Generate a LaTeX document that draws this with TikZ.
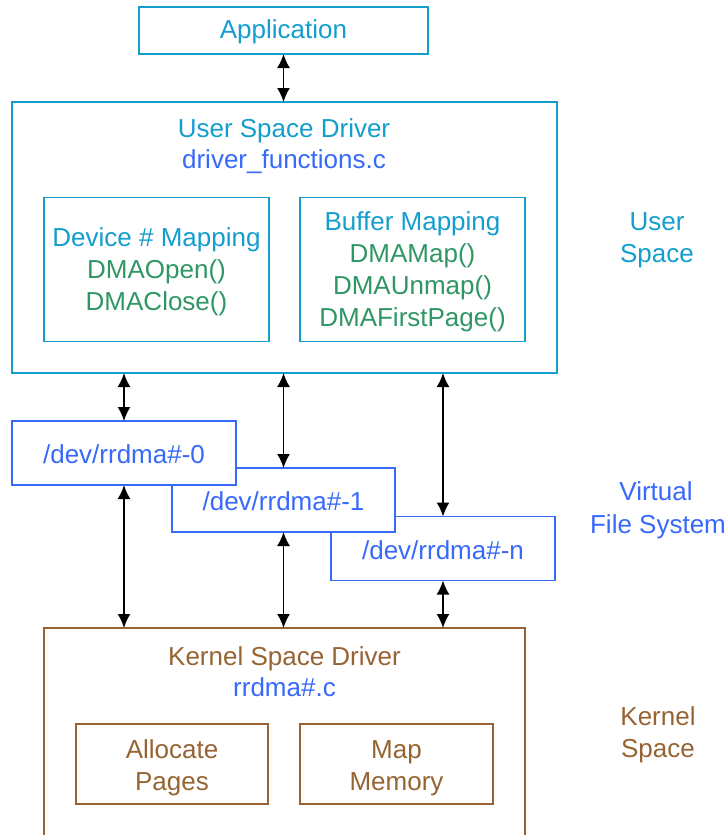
\documentclass[tikz,border=0pt]{standalone}
\usepackage{fontspec}
\setmainfont{Liberation Sans}
\usetikzlibrary{arrows.meta}
\definecolor{cyanc}{RGB}{20,158,205}
\definecolor{bluec}{RGB}{55,105,250}
\definecolor{greenc}{RGB}{48,150,100}
\definecolor{brownc}{RGB}{150,100,50}
\begin{document}
\begin{tikzpicture}[x=1pt,y=-1pt,
  box/.style={draw, line width=1.8pt, fill=white, inner sep=0pt, outer sep=0pt},
  txt/.style={anchor=base, font=\fontsize{26}{30}\selectfont, inner sep=0pt},
  arr/.style={{Latex[length=14pt,width=13pt]}-{Latex[length=14pt,width=13pt]}, line width=1.7pt}]
\useasboundingbox (0,0) rectangle (725,835);
% Application
\node[box, draw=cyanc, minimum width=289pt, minimum height=47pt] (app) at (283.5,30.5) {};
\node[txt, text=cyanc] (tapp) at (283.5,38.5) {Application};
% User space driver
\node[box, draw=cyanc, minimum width=545pt, minimum height=271pt] (usd) at (284.5,237.5) {};
\node[txt, text=cyanc] (tusd) at (284,137) {User Space Driver};
\node[txt, text=bluec] (tusdf) at (284,168.5) {driver\_functions.c};
\node[box, draw=cyanc, minimum width=225pt, minimum height=144pt] (dev) at (156.5,269.5) {};
\node[txt, text=cyanc] (tdev1) at (156.5,246.7) {Device \# Mapping};
\node[txt, text=greenc] (tdev2) at (156.5,278.7) {DMAOpen()};
\node[txt, text=greenc] (tdev3) at (156.5,310.5) {DMAClose()};
\node[box, draw=cyanc, minimum width=225pt, minimum height=144pt] (buf) at (412.5,269.5) {};
\node[txt, text=cyanc] (tbuf1) at (412.5,230.7) {Buffer Mapping};
\node[txt, text=greenc] (tbuf2) at (412.5,262.7) {DMAMap()};
\node[txt, text=greenc] (tbuf3) at (412.5,294.7) {DMAUnmap()};
\node[txt, text=greenc] (tbuf4) at (412.5,326.7) {DMAFirstPage()};
% labels
\node[txt, text=cyanc] (lus1) at (657,230) {User};
\node[txt, text=cyanc] (lus2) at (657,262) {Space};
\node[txt, text=bluec] (lvf1) at (656,500.7) {Virtual};
\node[txt, text=bluec] (lvf2) at (658,533) {File System};
\node[txt, text=brownc] (lks1) at (658,725) {Kernel};
\node[txt, text=brownc] (lks2) at (658,757) {Space};
% devices
\node[box, draw=bluec, minimum width=224pt, minimum height=64pt] (dn) at (443,548.5) {};
\node[txt, text=bluec] (tdn) at (443,559.3) {/dev/rrdma\#-n};
\node[box, draw=bluec, minimum width=223pt, minimum height=64pt] (d1) at (283.5,500) {};
\node[txt, text=bluec] (td1) at (283.5,510.7) {/dev/rrdma\#-1};
\node[box, draw=bluec, minimum width=224pt, minimum height=64pt] (d0) at (124,453) {};
\node[txt, text=bluec] (td0) at (124,463.3) {/dev/rrdma\#-0};
% Kernel
\node[box, draw=brownc, minimum width=481pt, minimum height=212pt] (ksd) at (284.5,734) {};
\node[txt, text=brownc] (tksd) at (284.5,665.7) {Kernel Space Driver};
\node[txt, text=bluec] (tksdf) at (284.5,696.7) {rrdma\#.c};
\node[box, draw=brownc, minimum width=192pt, minimum height=80pt] (alp) at (172,764) {};
\node[txt, text=brownc] (talp1) at (172,758.3) {Allocate};
\node[txt, text=brownc] (talp2) at (172,790) {Pages};
\node[box, draw=brownc, minimum width=193pt, minimum height=80pt] (mpm) at (396.5,764) {};
\node[txt, text=brownc] (tmpm1) at (396.5,758.3) {Map};
\node[txt, text=brownc] (tmpm2) at (396.5,790) {Memory};
% arrows
\draw[arr] (app.south) -- (app.south |- usd.north);
\draw[arr] (usd.south -| d0.north) -- (d0.north);
\draw[arr] (usd.south -| d1.north) -- (d1.north);
\draw[arr] (usd.south -| dn.north) -- (dn.north);
\draw[arr] (d0.south) -- (ksd.north -| d0.south);
\draw[arr] (d1.south) -- (ksd.north -| d1.south);
\draw[arr] (dn.south) -- (ksd.north -| dn.south);
\end{tikzpicture}
\end{document}
